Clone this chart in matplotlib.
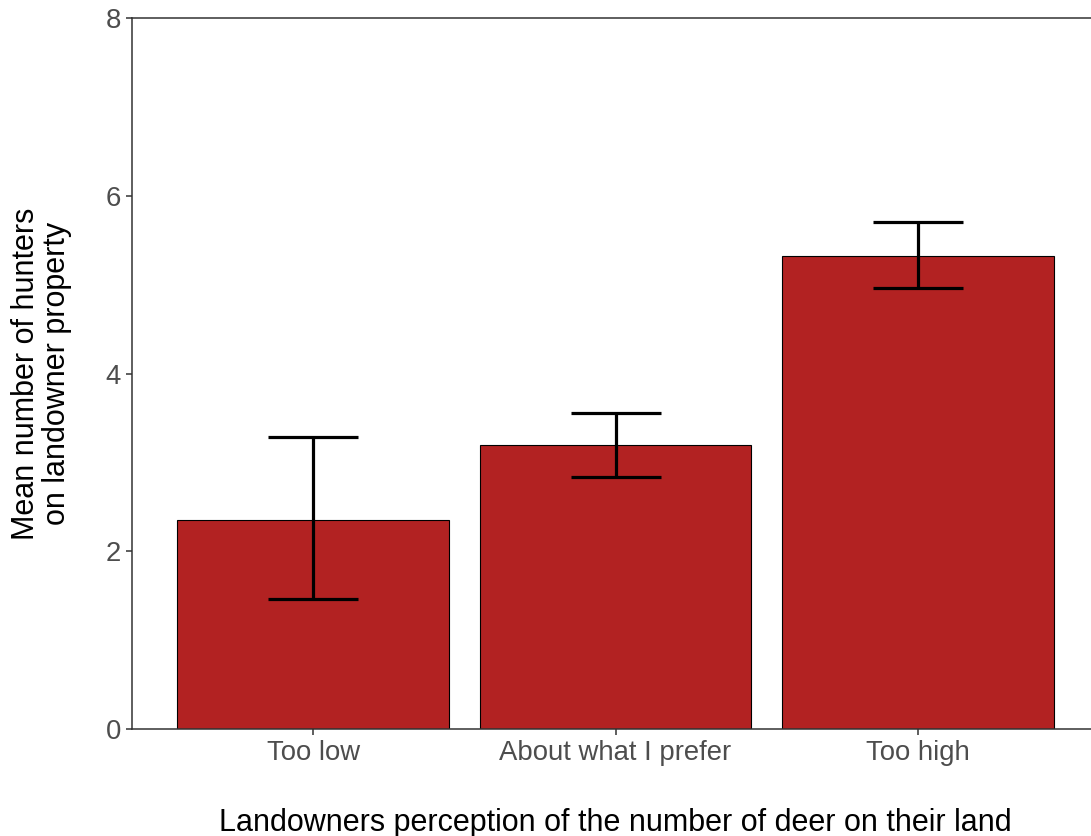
import numpy as np
import matplotlib.pyplot as plt

plt.rcParams["font.family"] = ["Liberation Sans", "DejaVu Sans"]

categories = ["Too low", "About what I prefer", "Too high"]
means = [2.35, 3.19, 5.32]
lower = [1.46, 2.83, 4.96]
upper = [3.28, 3.56, 5.71]

means = np.array(means)
yerr = [means - np.array(lower), np.array(upper) - means]
x = np.arange(1, len(categories) + 1)

fig = plt.figure(figsize=(10.91, 8.36), dpi=100)
ax = fig.add_axes([132 / 1091, 107 / 836, 967 / 1091, 711 / 836])

ax.bar(x, means, width=0.9, color="#B22222", edgecolor="black", linewidth=0.8, zorder=2)
ax.errorbar(x, means, yerr=yerr, fmt="none", ecolor="black", elinewidth=2.3,
            capsize=32.4, capthick=2.3, zorder=3)

ax.set_xlim(0.4, 3.6)
ax.set_ylim(0, 8)
ax.set_xticks(x)
ax.set_xticklabels(categories)
ax.set_yticks([0, 2, 4, 6, 8])

for side in ["top", "left", "bottom", "right"]:
    ax.spines[side].set_color("#333333")
    ax.spines[side].set_linewidth(1.1)

ax.tick_params(axis="both", colors="#333333", length=4, width=1.1, labelsize=19.8,
               labelcolor="#4D4D4D", pad=4)

ax.set_xlabel("Landowners perception of the number of deer on their land",
              fontsize=22, color="black", labelpad=30)
ax.set_ylabel("Mean number of hunters\non landowner property",
              fontsize=22, color="black", labelpad=24, linespacing=1.05)

fig.savefig("out.png", dpi=100)
